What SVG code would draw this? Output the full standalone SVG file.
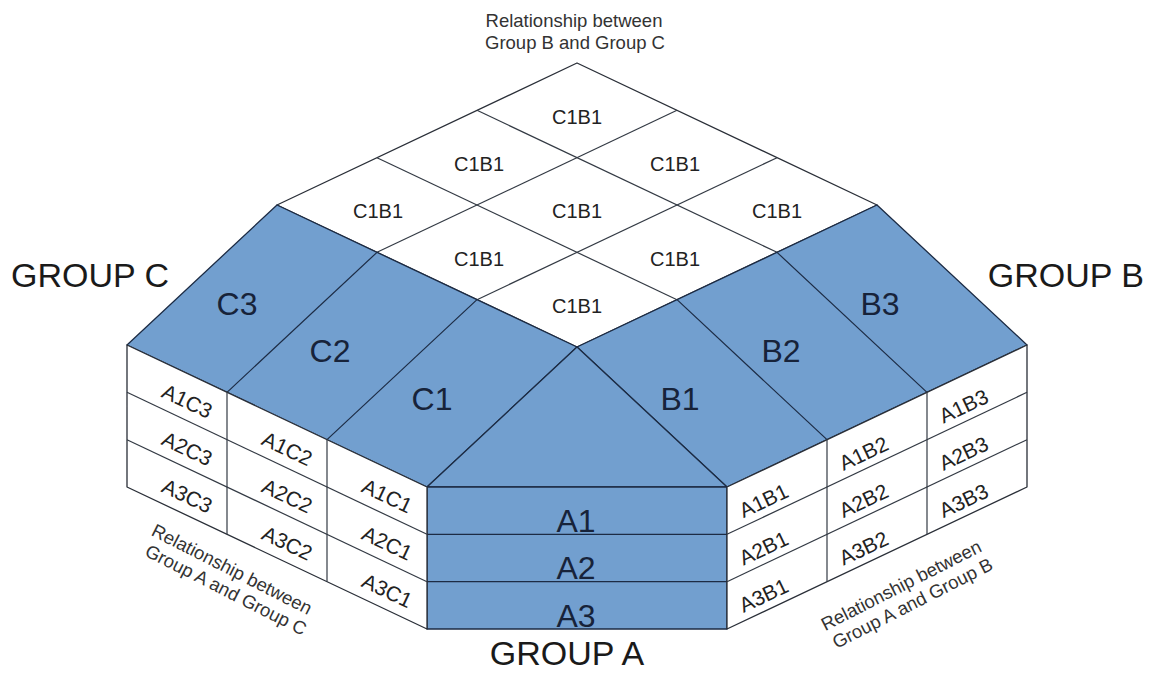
<svg xmlns="http://www.w3.org/2000/svg" width="1150" height="674" viewBox="0 0 1150 674">
<style>
.blue{fill:#729fcf;stroke:#1c2b44;stroke-width:1.3;stroke-linejoin:round}
.white{fill:#ffffff;stroke:#2a2f38;stroke-width:1.3;stroke-linejoin:round}
.ln{stroke:#1c2b44;stroke-width:1.2;fill:none}
.lw{stroke:#333a44;stroke-width:1.2;fill:none}
text{font-family:"Liberation Sans",Arial,sans-serif}
.big{font-size:32px;fill:#17233a;text-anchor:middle}
.grp{font-size:34px;fill:#1a1a1a}
.cell{font-size:20px;fill:#222;text-anchor:middle}
.wl{font-size:21px;fill:#222;text-anchor:middle}
.rel{font-size:18.5px;fill:#333;text-anchor:middle}
</style>

<rect width="1150" height="674" fill="#ffffff"/>

<g id="top-grid">
  <polygon class="white" points="577,63 877,205 577,347 277,205"/>
  <g class="lw">
    <line x1="477" y1="110.33" x2="777" y2="252.33"/>
    <line x1="377" y1="157.67" x2="677" y2="299.67"/>
    <line x1="677" y1="110.33" x2="377" y2="252.33"/>
    <line x1="777" y1="157.67" x2="477" y2="299.67"/>
  </g>
  <text class="cell" x="577" y="124">C1B1</text>
  <text class="cell" x="479" y="171">C1B1</text>
  <text class="cell" x="675" y="171">C1B1</text>
  <text class="cell" x="378" y="218">C1B1</text>
  <text class="cell" x="577" y="218">C1B1</text>
  <text class="cell" x="777" y="218">C1B1</text>
  <text class="cell" x="479" y="266">C1B1</text>
  <text class="cell" x="675" y="266">C1B1</text>
  <text class="cell" x="577" y="313">C1B1</text>
</g>

<g id="group-c-top">
  <polygon class="blue" points="277,205 577,347 427,487 127,345"/>
  <line class="ln" x1="377" y1="252.33" x2="227" y2="392.33"/>
  <line class="ln" x1="477" y1="299.67" x2="327" y2="439.67"/>
  <text class="big" x="237" y="315">C3</text>
  <text class="big" x="330" y="362">C2</text>
  <text class="big" x="432" y="410">C1</text>
</g>

<g id="group-b-top">
  <polygon class="blue" points="877,205 577,347 727,487 1027,345"/>
  <line class="ln" x1="777" y1="252.33" x2="927" y2="392.33"/>
  <line class="ln" x1="677" y1="299.67" x2="827" y2="439.67"/>
  <text class="big" x="880" y="315">B3</text>
  <text class="big" x="781" y="362">B2</text>
  <text class="big" x="680" y="410">B1</text>
</g>

<g id="group-a">
  <polygon class="blue" points="577,347 727,487 427,487"/>
  <rect class="blue" x="427" y="487" width="300" height="142"/>
  <line class="ln" x1="427" y1="534.33" x2="727" y2="534.33"/>
  <line class="ln" x1="427" y1="581.67" x2="727" y2="581.67"/>
  <text class="big" x="576" y="532">A1</text>
  <text class="big" x="576" y="579">A2</text>
  <text class="big" x="576" y="627">A3</text>
</g>

<g id="wall-ac">
  <polygon class="white" points="127,345 427,487 427,629 127,487"/>
  <g class="lw">
    <line x1="227" y1="392.33" x2="227" y2="534.33"/>
    <line x1="327" y1="439.67" x2="327" y2="581.67"/>
    <line x1="127" y1="392.33" x2="427" y2="534.33"/>
    <line x1="127" y1="439.67" x2="427" y2="581.67"/>
  </g>
  <text class="wl" transform="translate(177,392.3) rotate(25.33)" x="13" y="11">A1C3</text>
  <text class="wl" transform="translate(177,439.7) rotate(25.33)" x="13" y="11">A2C3</text>
  <text class="wl" transform="translate(177,487) rotate(25.33)" x="13" y="11">A3C3</text>
  <text class="wl" transform="translate(277,439.7) rotate(25.33)" x="13" y="11">A1C2</text>
  <text class="wl" transform="translate(277,487) rotate(25.33)" x="13" y="11">A2C2</text>
  <text class="wl" transform="translate(277,534.3) rotate(25.33)" x="13" y="11">A3C2</text>
  <text class="wl" transform="translate(377,487) rotate(25.33)" x="13" y="11">A1C1</text>
  <text class="wl" transform="translate(377,534.3) rotate(25.33)" x="13" y="11">A2C1</text>
  <text class="wl" transform="translate(377,581.7) rotate(25.33)" x="13" y="11">A3C1</text>
</g>

<g id="wall-ab">
  <polygon class="white" points="727,487 1027,345 1027,487 727,629"/>
  <g class="lw">
    <line x1="827" y1="439.67" x2="827" y2="581.67"/>
    <line x1="927" y1="392.33" x2="927" y2="534.33"/>
    <line x1="727" y1="534.33" x2="1027" y2="392.33"/>
    <line x1="727" y1="581.67" x2="1027" y2="439.67"/>
  </g>
  <text class="wl" transform="translate(777,487) rotate(-25.33)" x="-18" y="14">A1B1</text>
  <text class="wl" transform="translate(777,534.3) rotate(-25.33)" x="-18" y="14">A2B1</text>
  <text class="wl" transform="translate(777,581.7) rotate(-25.33)" x="-18" y="14">A3B1</text>
  <text class="wl" transform="translate(877,439.7) rotate(-25.33)" x="-18" y="14">A1B2</text>
  <text class="wl" transform="translate(877,487) rotate(-25.33)" x="-18" y="14">A2B2</text>
  <text class="wl" transform="translate(877,534.3) rotate(-25.33)" x="-18" y="14">A3B2</text>
  <text class="wl" transform="translate(977,392.3) rotate(-25.33)" x="-18" y="14">A1B3</text>
  <text class="wl" transform="translate(977,439.7) rotate(-25.33)" x="-18" y="14">A2B3</text>
  <text class="wl" transform="translate(977,487) rotate(-25.33)" x="-18" y="14">A3B3</text>
</g>

<g id="labels">
  <text class="grp" x="11" y="287">GROUP C</text>
  <text class="grp" x="1144" y="287" text-anchor="end">GROUP B</text>
  <text class="grp" x="567" y="665" text-anchor="middle" font-size="31">GROUP A</text>
  <text class="rel" x="574" y="27" font-size="18.7">Relationship between</text>
  <text class="rel" x="575" y="49" font-size="18.7">Group B and Group C</text>
  <g transform="translate(229,575) rotate(27)">
    <text class="rel" x="0" y="0">Relationship between</text>
    <text class="rel" x="4" y="21">Group A and Group C</text>
  </g>
  <g transform="translate(904,591) rotate(-27)">
    <text class="rel" x="0" y="0">Relationship between</text>
    <text class="rel" x="2" y="21">Group A and Group B</text>
  </g>
</g>
</svg>
